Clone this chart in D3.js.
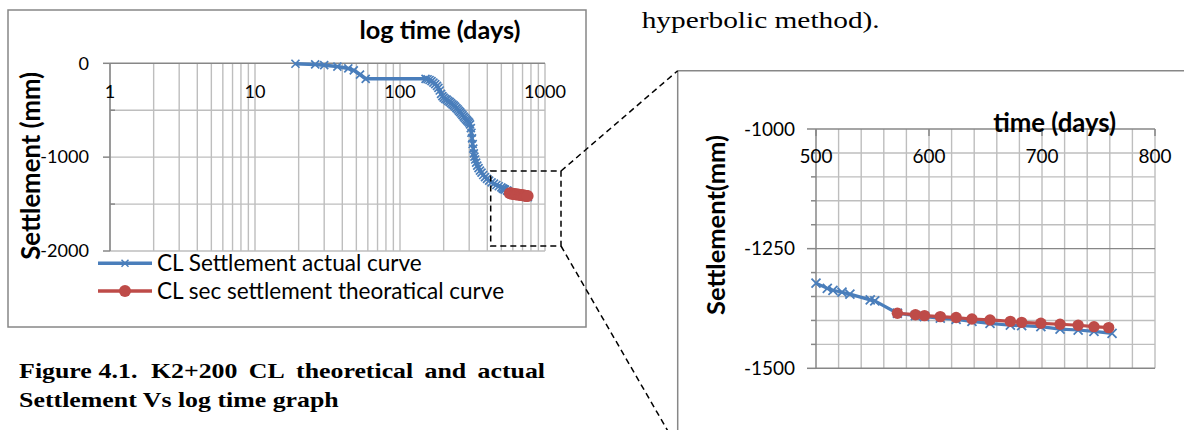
<!DOCTYPE html>
<html>
<head>
<meta charset="utf-8">
<script src="https://cdn.jsdelivr.net/npm/d3@7"></script>
<style>
  html, body { margin: 0; padding: 0; background: #fff; }
  svg { display: block; }
</style>
</head>
<body>
<svg id="fig" width="1184" height="430"></svg>
<script>
// Centre-line settlement at K2+200: field readings (days, mm)
const actualDays = [19, 26, 30, 37, 44, 48, 53, 58,
  150, 155, 160, 165, 170, 175, 180, 184, 188, 192, 196, 200,
  205, 210, 215, 220, 225, 230, 235, 240, 245, 250,
  255, 260, 265, 270, 275, 280, 285, 290, 295, 300,
  304, 308, 311, 314, 317, 320, 323, 326, 330,
  335, 341, 348, 356, 365, 375, 386, 398, 412, 428,
  445, 462, 480, 500, 510, 515, 523, 530, 548, 552, 572,
  588, 596, 610, 624, 638, 654, 672, 682, 699, 716, 732, 746, 762];
const actualSettlement = [-5, -12, -20, -35, -55, -75, -120, -165,
  -165, -170, -178, -190, -205, -222, -240, -262, -290, -325, -350, -365,
  -378, -388, -400, -412, -425, -437, -448, -462, -477, -492,
  -506, -520, -537, -553, -568, -583, -596, -608, -620, -632,
  -650, -690, -740, -800, -860, -910, -960, -995, -1025,
  -1058, -1090, -1118, -1143, -1165, -1190, -1212, -1232, -1250, -1268,
  -1283, -1297, -1310, -1322, -1333, -1337, -1341, -1345, -1357, -1359, -1385,
  -1390, -1392, -1395, -1398, -1402, -1406, -1410, -1411, -1413, -1418, -1420, -1423, -1427];

// Secondary settlement predicted by the hyperbolic method (days, mm)
const theoryDays = [572, 588, 596, 610, 624, 638, 654, 672, 682, 699, 716, 732, 746, 759];
const theorySettlement = [-1385, -1388, -1390, -1392, -1394, -1397, -1399, -1402, -1404, -1406, -1408, -1410, -1413, -1415];

// Axis ticks and labels
const logXTicks = [1, 10, 100, 1000];
const logYTicks = [0, -1000, -2000];
const linXTicks = [500, 600, 700, 800];
const linYTicks = [-1000, -1250, -1500];

const seriesNames = ["CL Settlement actual curve", "CL sec settlement theoratical curve"];
const logXTitle = "log time (days)";
const linXTitle = "time (days)";
const logYTitle = "Settlement (mm)";
const linYTitle = "Settlement(mm)";
const captionWords = ["Figure", "4.1.", "K2+200", "CL", "theoretical", "and", "actual"];
const captionLine2 = "Settlement Vs log time graph";
const bodyLine = "hyperbolic method).";

const actual = actualDays.map((d, i) => [d, actualSettlement[i]]);
const theory = theoryDays.map((d, i) => [d, theorySettlement[i]]);

const SANS = "Lato, 'Open Sans', sans-serif";
const SERIF = "'Liberation Serif', 'Times New Roman', serif";
const GRID = "#bebebe", AXIS = "#878787", BLUE = "#4a7ebb", RED = "#be4b48";

const svg = d3.select("#fig");
svg.append("rect").attr("width", 1184).attr("height", 430).attr("fill", "#fff");

// font size that makes a sample string a given width
function sizeFor(sample, family, weight, width) {
  const t = svg.append("text").attr("font-family", family).attr("font-weight", weight)
    .attr("font-size", 100).text(sample);
  const w = t.node().getComputedTextLength();
  t.remove();
  return 100 * width / w;
}

const xMark = s => `M${-s},${-s}L${s},${s}M${-s},${s}L${s},${-s}`;

// ---------- log-time chart ----------
const L = { left: 110, right: 545, top: 63.3, bottom: 251 };
const xL = d3.scaleLog().domain([1, 1000]).range([L.left, L.right]);
const yL = d3.scaleLinear().domain([0, -2000]).range([L.top, L.bottom]);

svg.append("rect").attr("x", 8).attr("y", 10).attr("width", 578).attr("height", 317)
  .attr("fill", "#fff").attr("stroke", AXIS).attr("stroke-width", 1.5);

const gL = svg.append("g");
gL.selectAll("line.vg").data(xL.ticks()).join("line").attr("class", "vg")
  .attr("x1", d => xL(d)).attr("x2", d => xL(d)).attr("y1", L.top).attr("y2", L.bottom)
  .attr("stroke", GRID).attr("stroke-width", 1.4);
gL.selectAll("line.hg").data(d3.range(-500, -2001, -500)).join("line").attr("class", "hg")
  .attr("x1", L.left).attr("x2", L.right).attr("y1", d => yL(d)).attr("y2", d => yL(d))
  .attr("stroke", GRID).attr("stroke-width", 1.4);
// axis lines
gL.append("line").attr("x1", L.left).attr("x2", L.right).attr("y1", yL(0)).attr("y2", yL(0))
  .attr("stroke", AXIS).attr("stroke-width", 1.5);
gL.append("line").attr("x1", L.left).attr("x2", L.left).attr("y1", L.top).attr("y2", L.bottom)
  .attr("stroke", AXIS).attr("stroke-width", 1.5);
gL.selectAll("line.yt").data(logYTicks).join("line").attr("class", "yt")
  .attr("x1", L.left - 7).attr("x2", L.left).attr("y1", d => yL(d)).attr("y2", d => yL(d))
  .attr("stroke", AXIS).attr("stroke-width", 1.5);
gL.selectAll("line.ymt").data([-500, -1500]).join("line").attr("class", "ymt")
  .attr("x1", L.left).attr("x2", L.left + 5).attr("y1", d => yL(d)).attr("y2", d => yL(d))
  .attr("stroke", AXIS).attr("stroke-width", 1.5);

const tickSizeL = sizeFor("1000", SANS, 400, 42);
gL.selectAll("text.yl").data(logYTicks).join("text").attr("class", "yl")
  .attr("x", 89).attr("y", d => yL(d)).attr("dy", "0.35em").attr("text-anchor", "end")
  .attr("font-family", SANS).attr("font-size", tickSizeL).attr("fill", "#000")
  .text(d => String(d));
gL.selectAll("text.xl").data(logXTicks).join("text").attr("class", "xl")
  .attr("x", d => xL(d)).attr("y", 92).attr("dy", "0.35em").attr("text-anchor", "middle")
  .attr("font-family", SANS).attr("font-size", tickSizeL).attr("fill", "#000")
  .text(d => String(d));

gL.append("text").attr("x", 440).attr("y", 39.3).attr("text-anchor", "middle")
  .attr("font-family", SANS).attr("font-weight", 700)
  .attr("font-size", sizeFor(logXTitle, SANS, 700, 161)).text(logXTitle);
gL.append("text").attr("transform", "translate(30.5,165.8) rotate(-90)")
  .attr("text-anchor", "middle").attr("dy", "0.35em")
  .attr("font-family", SANS).attr("font-weight", 700)
  .attr("font-size", sizeFor(logYTitle, SANS, 700, 188)).text(logYTitle);

const lineL = d3.line().x(d => xL(d[0])).y(d => yL(d[1]));
gL.append("path").datum(actual).attr("d", lineL).attr("fill", "none")
  .attr("stroke", BLUE).attr("stroke-width", 3.6).attr("stroke-linejoin", "round");
gL.selectAll("path.am").data(actual).join("path").attr("class", "am")
  .attr("transform", d => `translate(${xL(d[0])},${yL(d[1])})`).attr("d", xMark(4))
  .attr("stroke", BLUE).attr("stroke-width", 1.7).attr("fill", "none");
gL.append("path").datum(theory).attr("d", lineL).attr("fill", "none")
  .attr("stroke", RED).attr("stroke-width", 3.6);
gL.selectAll("circle.tm").data(theory).join("circle").attr("class", "tm")
  .attr("cx", d => xL(d[0])).attr("cy", d => yL(d[1])).attr("r", 6).attr("fill", RED);

// legend
const legendSize = sizeFor(seriesNames[0], SANS, 400, 265);
const legend = svg.append("g");
[263.3, 291].forEach((y, i) => {
  const c = i === 0 ? BLUE : RED;
  legend.append("line").attr("x1", 98).attr("x2", 152).attr("y1", y).attr("y2", y)
    .attr("stroke", c).attr("stroke-width", 3.6);
  if (i === 0) {
    legend.append("path").attr("transform", `translate(125,${y})`).attr("d", xMark(3.5))
      .attr("stroke", c).attr("stroke-width", 1.5).attr("fill", "none");
  } else {
    legend.append("circle").attr("cx", 125).attr("cy", y).attr("r", 6).attr("fill", c);
  }
  legend.append("text").attr("x", 157).attr("y", y).attr("dy", "0.35em")
    .attr("font-family", SANS).attr("font-size", legendSize).attr("fill", "#000")
    .text(seriesNames[i]);
});

// ---------- enlarged linear-time chart ----------
const R = { left: 816, right: 1155, top: 129, bottom: 368.3 };
const xR = d3.scaleLinear().domain([500, 800]).range([R.left, R.right]);
const yR = d3.scaleLinear().domain([-1000, -1500]).range([R.top, R.bottom]);

const gR = svg.append("g");
gR.append("line").attr("x1", 677.7).attr("x2", 1184).attr("y1", 70.7).attr("y2", 70.7)
  .attr("stroke", AXIS).attr("stroke-width", 1.5);
gR.append("line").attr("x1", 677.7).attr("x2", 677.7).attr("y1", 70.7).attr("y2", 430)
  .attr("stroke", AXIS).attr("stroke-width", 1.5);

gR.selectAll("line.vg").data(d3.range(520, 801, 20)).join("line").attr("class", "vg")
  .attr("x1", d => xR(d)).attr("x2", d => xR(d)).attr("y1", R.top).attr("y2", R.bottom)
  .attr("stroke", GRID).attr("stroke-width", 1.4);
gR.selectAll("line.hg").data(d3.range(-1050, -1500, -50)).join("line").attr("class", "hg")
  .attr("x1", R.left).attr("x2", R.right).attr("y1", d => yR(d)).attr("y2", d => yR(d))
  .attr("stroke", d => d === -1250 ? AXIS : GRID).attr("stroke-width", 1.4);
gR.append("line").attr("x1", R.left).attr("x2", R.right).attr("y1", R.bottom).attr("y2", R.bottom)
  .attr("stroke", AXIS).attr("stroke-width", 1.4);
gR.append("line").attr("x1", R.left).attr("x2", R.right).attr("y1", R.top).attr("y2", R.top)
  .attr("stroke", AXIS).attr("stroke-width", 1.5);
gR.append("line").attr("x1", R.left).attr("x2", R.left).attr("y1", R.top).attr("y2", R.bottom)
  .attr("stroke", AXIS).attr("stroke-width", 1.5);
gR.selectAll("line.yt").data(d3.range(-1000, -1501, -50)).join("line").attr("class", "yt")
  .attr("x1", d => linYTicks.includes(d) ? R.left - 9 : R.left - 5).attr("x2", R.left)
  .attr("y1", d => yR(d)).attr("y2", d => yR(d)).attr("stroke", AXIS).attr("stroke-width", 1.5);
gR.selectAll("line.xt").data(linXTicks).join("line").attr("class", "xt")
  .attr("x1", d => xR(d)).attr("x2", d => xR(d)).attr("y1", R.top).attr("y2", R.top + 7)
  .attr("stroke", AXIS).attr("stroke-width", 1.5);

const tickSizeR = sizeFor("600", SANS, 400, 33);
gR.selectAll("text.yl").data(linYTicks).join("text").attr("class", "yl")
  .attr("x", 795).attr("y", d => yR(d)).attr("dy", "0.35em").attr("text-anchor", "end")
  .attr("font-family", SANS).attr("font-size", tickSizeR).attr("fill", "#000")
  .text(d => String(d));
gR.selectAll("text.xl").data(linXTicks).join("text").attr("class", "xl")
  .attr("x", d => xR(d)).attr("y", 156.7).attr("dy", "0.35em").attr("text-anchor", "middle")
  .attr("font-family", SANS).attr("font-size", tickSizeR).attr("fill", "#000")
  .text(d => String(d));

gR.append("text").attr("x", 1054.7).attr("y", 131.7).attr("text-anchor", "middle")
  .attr("font-family", SANS).attr("font-weight", 700)
  .attr("font-size", sizeFor(linXTitle, SANS, 700, 123)).text(linXTitle);
gR.append("text").attr("transform", "translate(716,225) rotate(-90)")
  .attr("text-anchor", "middle").attr("dy", "0.35em")
  .attr("font-family", SANS).attr("font-weight", 700)
  .attr("font-size", sizeFor(linYTitle, SANS, 700, 180)).text(linYTitle);

const inR = actual.filter(d => d[0] >= 500 && d[0] <= 800);
const lineR = d3.line().x(d => xR(d[0])).y(d => yR(d[1]));
gR.append("path").datum(inR).attr("d", lineR).attr("fill", "none")
  .attr("stroke", BLUE).attr("stroke-width", 3.2).attr("stroke-linejoin", "round");
gR.selectAll("path.am").data(inR).join("path").attr("class", "am")
  .attr("transform", d => `translate(${xR(d[0])},${yR(d[1])})`).attr("d", xMark(4.5))
  .attr("stroke", BLUE).attr("stroke-width", 1.8).attr("fill", "none");
gR.append("path").datum(theory).attr("d", lineR).attr("fill", "none")
  .attr("stroke", RED).attr("stroke-width", 3.2);
gR.selectAll("circle.tm").data(theory).join("circle").attr("class", "tm")
  .attr("cx", d => xR(d[0])).attr("cy", d => yR(d[1])).attr("r", 5.7).attr("fill", RED);

// ---------- callout linking the two charts ----------
const box = { x0: 490.7, y0: 171, x1: 561, y1: 246 };
const callout = svg.append("g").attr("fill", "none").attr("stroke", "#000")
  .attr("stroke-width", 1.5).attr("stroke-dasharray", "6,4");
callout.append("rect").attr("x", box.x0).attr("y", box.y0)
  .attr("width", box.x1 - box.x0).attr("height", box.y1 - box.y0);
callout.append("line").attr("x1", box.x1).attr("y1", box.y0).attr("x2", 677.7).attr("y2", 70.7);
callout.append("line").attr("x1", box.x1).attr("y1", box.y1).attr("x2", 677.7).attr("y2", 448);

// ---------- surrounding page text ----------
svg.append("text").attr("x", 641.7).attr("y", 28.3)
  .attr("font-family", SERIF).attr("font-size", 24)
  .attr("textLength", 238).attr("lengthAdjust", "spacingAndGlyphs").text(bodyLine);

// caption: Times-style glyphs widened to the caption's measure
const CAP = 21;
const cap2 = svg.append("text").attr("x", 19.1).attr("y", 407.3)
  .attr("font-family", SERIF).attr("font-weight", 700).attr("font-size", CAP)
  .text(captionLine2);
const stretch = 319.6 / cap2.node().getComputedTextLength();
cap2.attr("textLength", 319.6).attr("lengthAdjust", "spacingAndGlyphs");

// first caption line is justified between the text margins
const cap1 = svg.append("g").attr("font-family", SERIF).attr("font-weight", 700)
  .attr("font-size", CAP);
const words = captionWords.map(w => cap1.append("text").attr("y", 378.3).text(w));
const widths = words.map(t => t.node().getComputedTextLength() * stretch);
words.forEach((t, i) => t.attr("textLength", widths[i]).attr("lengthAdjust", "spacingAndGlyphs"));
const gapWeights = [0.6, 1.2, 1, 1, 1, 1];
const free = (545 - 19.1) - d3.sum(widths);
const unit = free / d3.sum(gapWeights);
let cx = 19.1;
words.forEach((t, i) => {
  t.attr("x", cx);
  cx += widths[i] + (i < gapWeights.length ? gapWeights[i] * unit : 0);
});
</script>
</body>
</html>
